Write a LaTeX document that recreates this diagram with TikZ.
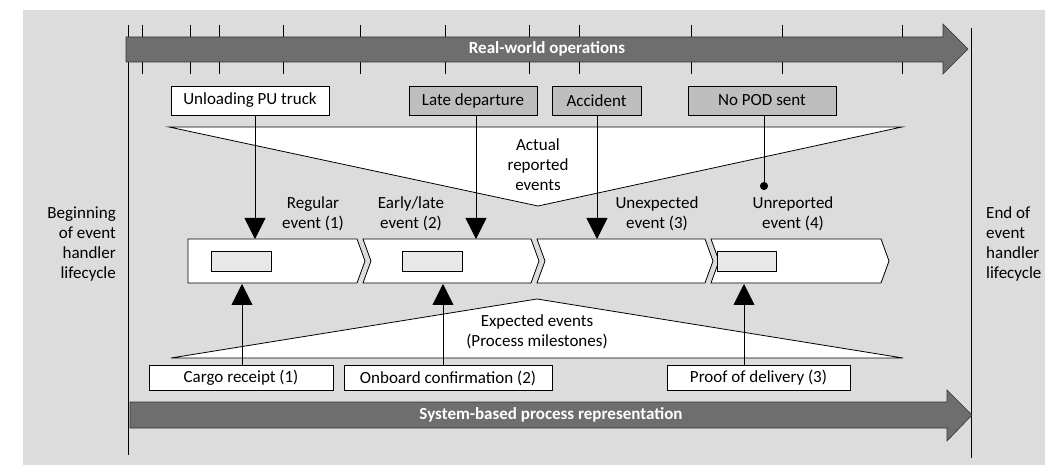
\documentclass[tikz,border=0pt]{standalone}
\definecolor{bgGray}{HTML}{DCDCDC}
\definecolor{barGray}{HTML}{6E6E6E}
\definecolor{boxGray}{HTML}{BEBEBE}
\definecolor{slotGray}{HTML}{E8E8E8}
\usepackage{fontspec}
\setmainfont{Carlito}
\usepackage{tikz}
\usetikzlibrary{arrows.meta, positioning}

\begin{document}
\begin{tikzpicture}[
    x=1pt, y=-1pt,
    every node/.style={font=\fontsize{17}{20}\selectfont, inner sep=0pt},
    evbox/.style={rectangle, draw, line width=0.8pt, fill=white, minimum height=29pt, text centered},
    milebox/.style={rectangle, draw, line width=0.8pt, fill=white, minimum height=24.5pt, text centered},
    lbl/.style={align=center},
    barlbl/.style={font=\fontsize{17}{20}\selectfont\bfseries\color{white}},
    seg/.style={draw, line width=0.8pt, fill=white},
    slot/.style={draw, line width=0.8pt, fill=slotGray},
    arr/.style={-{Triangle[length=21pt, width=21pt]}, line width=0.8pt},
    dotarr/.style={-{Circle[length=8pt]}, line width=0.8pt}
]
\useasboundingbox (0,0) rectangle (1045,465);
\fill[bgGray] (23,10) rectangle (1045,465);

% lifecycle limits
\draw[line width=0.8pt] (128,25) -- (128,455);
\draw[line width=0.8pt] (971,28) -- (971,458);
\node[align=right, anchor=east] (begin) at (116,244) {Beginning\\of event\\handler\\lifecycle};
\node[align=left, anchor=west] (end) at (986,244) {End of\\event\\handler\\lifecycle};

% real-world time line
\foreach \tx in {142,190,219,283,360,445,529,579,691,782,902}
    \draw[line width=0.8pt] (\tx,25) -- (\tx,74);
\filldraw[fill=barGray, draw=black!80, line width=0.6pt] (126,37) -- (943,37) -- (943,24) -- (968,49) -- (943,74) -- (943,62) -- (126,62) -- cycle;
\node[barlbl] (real) at (547,49) {Real-world operations};

% system time line
\filldraw[fill=barGray, draw=black!80, line width=0.6pt] (130,402) -- (947,402) -- (947,390) -- (972,415) -- (947,441) -- (947,428) -- (130,428) -- cycle;
\node[barlbl] (sys) at (551,415) {System-based process representation};

% actual events
\node[evbox, minimum width=158pt] (unl) at (250,100.5) {Unloading PU truck};
\node[evbox, fill=boxGray, minimum width=128pt] (late) at (473,100.5) {Late departure};
\node[evbox, fill=boxGray, minimum width=89pt] (acc) at (596.5,100.5) {Accident};
\node[evbox, fill=boxGray, minimum width=148pt] (pod) at (762,100.5) {No POD sent};
\filldraw[fill=white, line width=0.8pt] (169,127) -- (902,127) -- (538,206) -- cycle;
\node[lbl] (actual) at (538,165) {Actual\\reported\\events};

% expected events
\filldraw[fill=white, line width=0.8pt] (171,358) -- (903,358) -- (537,299) -- cycle;
\node[lbl] (expected) at (537,332) {Expected events\\(Process milestones)};
\node[milebox, minimum width=184pt] (cargo) at (241,378) {Cargo receipt (1)};
\node[milebox, minimum width=208pt] (onb) at (448,378) {Onboard confirmation (2)};
\node[milebox, minimum width=183pt] (proof) at (758.5,378) {Proof of delivery (3)};

% process chevrons
\draw[seg] (188,239) -- (357,239) -- (365,261) -- (357,283) -- (188,283) -- cycle;
\draw[seg] (363,239) -- (531,239) -- (539,261) -- (531,283) -- (363,283) -- (371,261) -- cycle;
\draw[seg] (537,239) -- (705,239) -- (713,261) -- (705,283) -- (537,283) -- (545,261) -- cycle;
\draw[seg] (711,239) -- (881,239) -- (889,261) -- (881,283) -- (711,283) -- (719,261) -- cycle;
\draw[slot] (211,251) rectangle (271,271);
\draw[slot] (402,251) rectangle (462,271);
\draw[slot] (717,251) rectangle (776,271);

\node[lbl] (regular) at (313,214) {Regular\\event (1)};
\node[lbl] (early) at (411,214) {Early/late\\event (2)};
\node[lbl] (unexp) at (657,214) {Unexpected\\event (3)};
\node[lbl] (unrep) at (793,214) {Unreported\\event (4)};

% connectors
\coordinate (in1) at (255,239);
\coordinate (in2) at (476,239);
\coordinate (in3) at (597,239);
\coordinate (in4) at (764,190);
\coordinate (up1) at (242,284);
\coordinate (up2) at (443,284);
\coordinate (up3) at (744,284);
\draw[arr] (unl.south -| in1) -- (in1);
\draw[arr] (late.south -| in2) -- (in2);
\draw[arr] (acc.south -| in3) -- (in3);
\draw[dotarr] (pod.south -| in4) -- (in4);
\draw[arr] (cargo.north -| up1) -- (up1);
\draw[arr] (onb.north -| up2) -- (up2);
\draw[arr] (proof.north -| up3) -- (up3);
\end{tikzpicture}
\end{document}
